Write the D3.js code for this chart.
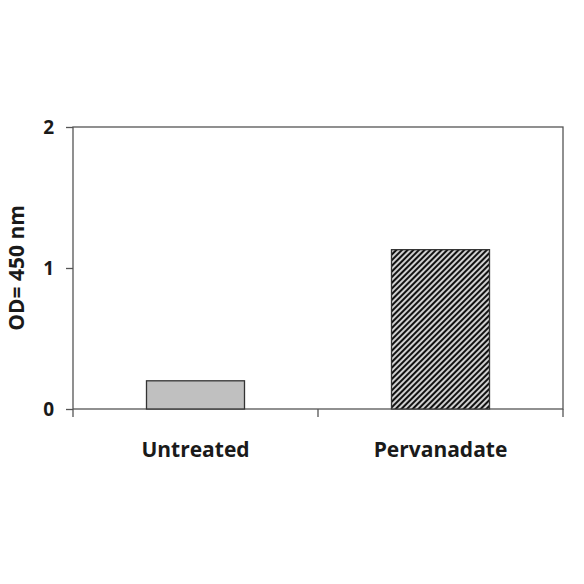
<!DOCTYPE html>
<html lang="en">
<head>
    <meta charset="UTF-8">
    <title>OD 450 nm</title>
    <style>
        body{margin:0; background:#fff;}
        svg{display:block;}
        text{font-family:"Open Sans","Noto Sans",sans-serif; font-weight:bold; fill:#1a1a1a;}
    </style>
</head>
<body>
    <div id="chart"></div>
    <script src="https://cdn.jsdelivr.net/npm/d3@7"></script>
    <script>
        var categories = ['Untreated', 'Pervanadate'];
        var values = [0.2, 1.13];
        var yTicks = [0, 1, 2];

        function draw(){
            var width = 584, height = 584;
            var left = 73, right = 563, top = 127, bottom = 409;

            var svg = d3.select('#chart').append('svg')
                .attr('width', width)
                .attr('height', height);

            // hatch for the second bar
            var defs = svg.append('defs');
            var pat = defs.append('pattern')
                .attr('id', 'hatch')
                .attr('patternUnits', 'userSpaceOnUse')
                .attr('width', 4).attr('height', 4)
                .attr('patternTransform', 'rotate(45)');
            pat.append('rect').attr('width', 4).attr('height', 4).attr('fill', '#d0d0d0');
            pat.append('rect').attr('x', 0).attr('width', 2).attr('height', 4).attr('fill', '#111');

            var xScale = d3.scaleBand()
                .domain(categories)
                .range([left, right])
                .paddingInner(0.6)
                .paddingOuter(0.3);

            var yScale = d3.scaleLinear()
                .domain([0, 2])
                .range([bottom, top]);

            // frame
            svg.append('rect')
                .attr('x', left).attr('y', top)
                .attr('width', right - left).attr('height', bottom - top)
                .attr('fill', 'none')
                .attr('stroke', '#555')
                .attr('stroke-width', 1.3);

            // bars
            svg.append('g').selectAll('rect')
                .data(values)
                .enter()
                .append('rect')
                .attr('x', function(d, i){ return xScale(categories[i]); })
                .attr('y', function(d){ return yScale(d); })
                .attr('width', xScale.bandwidth())
                .attr('height', function(d){ return yScale(0) - yScale(d); })
                .attr('fill', function(d, i){ return i == 0 ? '#c0c0c0' : 'url(#hatch)'; })
                .attr('stroke', '#333')
                .attr('stroke-width', 1.3);

            // y axis
            var yAxis = d3.axisLeft(yScale).tickValues(yTicks).tickFormat(d3.format('d')).tickSize(7).tickPadding(12);
            var gy = svg.append('g').attr('transform', 'translate(' + left + ',0)').call(yAxis);
            gy.select('.domain').remove();
            gy.selectAll('.tick line').attr('stroke', '#555').attr('stroke-width', 1.3);
            gy.selectAll('.tick text').style('font-size', '19px').style('font-family', '"Open Sans",sans-serif').style('font-weight', 'bold').attr('fill', '#1a1a1a');

            // x axis: ticks between categories
            var xEdges = [left, (left + right) / 2, right];
            var gx = svg.append('g');
            gx.selectAll('line')
                .data(xEdges)
                .enter()
                .append('line')
                .attr('x1', function(d){ return d; }).attr('x2', function(d){ return d; })
                .attr('y1', bottom).attr('y2', bottom + 8)
                .attr('stroke', '#555').attr('stroke-width', 1.3);
            gx.selectAll('text')
                .data(categories)
                .enter()
                .append('text')
                .text(function(d){ return d; })
                .attr('x', function(d){ return xScale(d) + xScale.bandwidth() / 2; })
                .attr('y', 457)
                .attr('text-anchor', 'middle')
                .style('font-size', '21px');

            // y title
            svg.append('text')
                .text('OD= 450 nm')
                .attr('transform', 'translate(24,' + ((top + bottom) / 2) + ') rotate(-90)')
                .attr('text-anchor', 'middle')
                .style('font-size', '21px');
        }
        draw();
    </script>
</body>
</html>
